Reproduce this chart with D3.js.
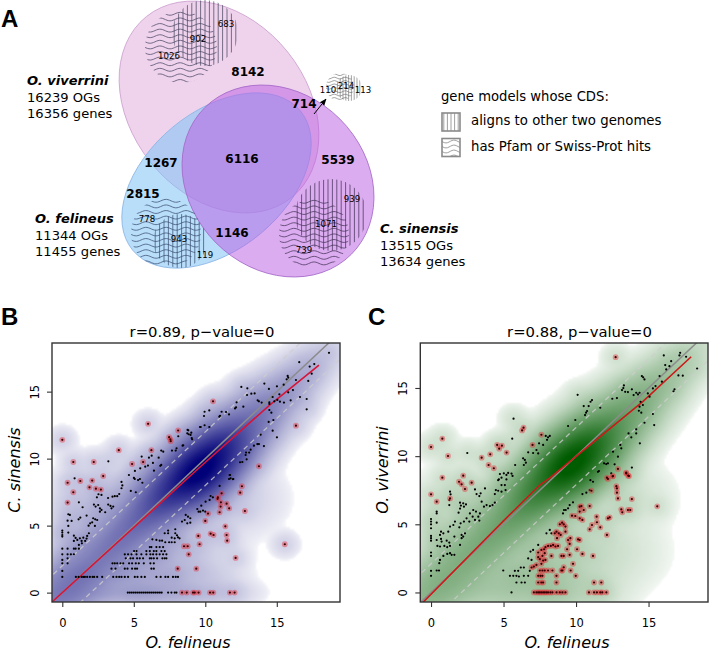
<!DOCTYPE html>
<html><head><meta charset="utf-8">
<script src="https://cdn.jsdelivr.net/npm/d3@7"></script>
<style>html,body{margin:0;padding:0;background:#fff}svg{display:block}text{font-family:"DejaVu Sans",sans-serif;fill:#000}</style>
</head><body><div id="chart"></div>
<script>
// ---------- Panel A values ----------
const vennCounts = [[8142,248,76],[714,304,108],[1267,161,167],[6116,242,163],[5539,338,164],[2815,143,198],[1146,232,237]];
const hatchCounts = [[683,226,27],[902,198,42],[1026,169,59],[778,147,222],[943,179,242],[119,205,258],[1071,326,227],[939,352,202],[739,304,253],[110,328,93],[214,346,89],[113,363,93]];
const speciesNames = ["O. viverrini","O. felineus","C. sinensis"];
const speciesOGs = ["16239 OGs","11344 OGs","13515 OGs"];
const speciesGenes = ["16356 genes","11455 genes","13634 genes"];

// ---------- Panel B values (O. felineus vs C. sinensis) ----------
const blackB = [[18.65,17.9],[16.57,17.2],[17.62,17.06],[17.3,16.87],[17.44,16.34],[15.76,16.17],[15.8,16.05],[15.69,15.92],[16.34,15.87],[17.2,15.8],[14.13,15.6],[15.01,15.4],[15.48,15.52],[12.52,15.35],[12.94,15.25],[14.45,15.2],[13.22,14.85],[13.45,14.87],[12.92,14.75],[16.13,15.12],[15.8,14.95],[15.18,14.8],[14.71,14.6],[13.66,14.35],[13.75,14.28],[13.94,14.18],[14.48,14.2],[14.48,14.08],[14.83,14.28],[15.04,14.38],[15.22,14.25],[15.5,14.18],[15.97,14.35],[16.62,14.6],[17.09,14.45],[17.09,13.68],[12.19,14.2],[12.66,13.88],[12.15,13.83],[12.08,13.75],[10.28,13.6],[9.95,13.5],[9.91,13.18],[11.14,13.5],[11.45,13.48],[11.66,13.3],[11.03,13.2],[10.98,13.13],[14.48,13.63],[14.62,13.43],[14.76,12.88],[14.43,12.74],[14.71,12.09],[15.01,11.59],[9.68,12.36],[9.95,12.49],[10.28,12.36],[8.81,12.11],[9.02,11.94],[8.84,11.82],[9.05,11.54],[9.08,11.44],[8.46,11],[13.87,11.79],[13.4,10.97],[13.64,11.09],[13.75,11.09],[14.1,10.94],[13.17,10.67],[12.85,10.45],[12.82,10.27],[13.07,10.45],[12.89,9.95],[12.59,9.75],[12.43,9.73],[11.73,8.78],[11.66,8.48],[11.96,8.48],
[8.76,12.14],[8.74,11.89],[8.97,11.77],[8.11,11.67],[9.63,12.36],[8.41,10.97],[7.99,10.77],[7.93,10.6],[7.67,10.6],[7.06,10.52],[6.92,10.6],[6.25,10.22],[5.55,10.15],[6.06,10.07],[6.74,10.07],[6.34,9.68],[3.22,9.8],[5.99,9.48],[5.8,9.4],[5.45,9.28],[5.08,9.08],[4.66,8.78],[5.01,8.56],[5.43,8.48],[6.92,9.53],[6.85,9.46],[6.41,9.1],[0.86,8.53],
[5.07,8.48],[5.3,8.4],[5.6,8.2],[4.14,8.26],[4.2,8],[4.79,7.59],[5.14,7.49],[4.14,7.79],[3.98,7.36],[3.51,7.16],[3.2,7.06],[3.67,7.2],[3.84,7.2],[2.53,7.34],[2.42,7.11],[2.74,7.29],[1.16,6.74],[1.42,6.37],[2.21,6.57],[2.51,6.54],[2.33,6.42],[2.63,6.29],[3.21,6.57],[3.37,6.47],[3.56,6.42],[3.44,6.29],[2.63,6.04],[2.74,6.17],[3,6],[0.42,5.85],[0.53,5.8],[1.26,5.6],[1.14,5.47],[1.7,5.75],[0.37,5.37],[0.65,5.35],[2.16,5.55],[2.3,5.47],[2.44,5.42],[1.95,5.17],[1.84,5],[2.28,4.98],[2.09,5.25],[0.42,4.98],[0,4.63],[0,4.48],[0,4.3],[0,4.18],[0.42,4.48],[0.81,4.25],[0.93,4.08],[1.86,4.43],[1.74,4.23],[1.23,4.05],[1.05,3.93],[1.47,4.1],[1.7,4.03],[0.81,3.86],[1.35,3.86],[1.6,3.86],[1.37,3.68],[1.16,3.56],[0.93,3.28],[0.81,3.28],[0,3.28],[0.37,3.28],[1.16,3.28],[0,2.86],[0.37,2.86],[0.6,2.86],[0.81,2.86],[0.37,2.56],[0,2.44],[0,2.19],[0.37,2.19],[0,1.62],[0,1.17],
[6.3,3.98],[6.58,3.93],[6.81,3.88],[6.98,3.88],[7.2,3.76],[7.47,3.76],[7.65,3.76],[7.86,3.76],[8.09,4.13],[7.86,4.05],[7.65,4.1],[7.4,4.43],[7.16,4.43],[7.4,4.63],[7.9,4.43],[7.9,4.73],[8.2,4.05],[8.02,4.28],[8.37,5.3],[8.56,5.42],[8.79,5.67],[8.95,5.55],[8.95,5.22],[8.74,5.17],[8.63,5.8],[9.44,6.24],[9.72,6.49],[9.53,6.04],[9.84,6.12],[10,6.04],[9.65,6.04],[10.02,6.79],[10.3,6.92],[10.53,7.11],[10.37,7.21],[11,7.96],[11.7,8.78],[11.93,8.46],[11.77,8.53]];
const rowLevelsB = [0,1.17,1.79,2.19,2.56,2.86,3.1,3.4];
const rowValuesB = [
 [4.58,4.72,4.86,5,5.14,5.28,5.42,5.56,5.7,5.84,5.98,6.12,6.26,6.4,6.54,6.68,6.82,6.95,7.4,7.63,7.86,7.98],
 [0.95,1.14,1.35,1.47,1.58,1.74,1.93,2.12,2.23,2.44,2.79,3.56,3.79,3.98,4.14,4.37,4.6,5.07,5.26,5.53,5.77,6.58,6.88,7.21,7.4,7.74,7.93,8.09],
 [3.44,3.72,4.37,4.56,4.88,5.09,5.23,6.23,6.4],
 [3.51,3.67,3.84,4.07,4.26,4.67,4.88,5.14,5.35,5.7,6.16,6.4],
 [4.44,4.77,4.95,5.23,5.42,5.65,6.12,6.23,6.4,6.63,7,7.16,7.28],
 [4.37,4.6,4.84,5.19,5.53,5.88,6.16,6.35,6.58,6.81,7.05,7.28],
 [5.02,5.19,5.88,6.12,6.4,6.58,6.93,7.16],
 [6.12,6.23,6.58,6.81,7.05]];
const redB = [[0.37,8.2],[1.26,8.33],[2.09,8.36],[2.86,8.7],[1.9,7.86],[2.35,7.76],[2.7,7.69],[0.77,7.49],[0.37,6.72],[12.56,7.94],[12.44,7.46],[11.14,7.41],[10.88,7.11],[10.86,7],[11.09,6.74],[11.49,6.64],[11.07,6.42],[11.67,6.29],[12.77,6.09],[11,6],[10.19,5.9],[10,5.35],[11.4,4.95],[9.51,4.23],[10.37,4.4],[10.58,4.3],[11.49,4.3],[11.53,3.88],[9.6,3.61],[15.56,3.61],[8.51,3.46],[8.77,3.46],[8.84,2.86],[12.12,2.59],[8.07,1.79],[9.37,1.79],[8.37,0],[8.7,0],[9.14,0],[9.26,0],[9.53,0],[10.33,0],[10.56,0],[11.72,0],[12.05,0],[0,11.4],[6,12.6],[0.77,9.75],[2.2,9.75],[3.95,10.63],[4.88,9.6],[5.65,9.75],[6.23,10.63],[7.47,11.6],[7.56,11.44],[7.58,11.3],[8.1,12.1],[10.54,14.28],[16.34,12.46],[13.75,9.43]];
const fitXB = [-0.74,9.4,14.5,17.95];
const fitYB = [-0.72,9.15,14,16.97];
const ridgeXB = [-0.3,1.5,3.5,5.5,7.5,9.5,11,12.8,14.8,16.8,2,5,8,11,1,4,7,10,3,7,12,4];
const ridgeYB = [-0.3,1.5,3.5,5.5,7.5,9,10.5,12.3,14.3,16.2,0,0,0,0,1.2,1.2,1.2,1.2,5.5,3,7,7];
const ridgeAlongB = [1.4,1.6,1.6,1.6,1.5,1.4,1.4,1.6,1.6,1.6,1.6,1.6,1.4,1.2,1.6,1.6,1.4,1.2,2,2,1.5,1.6];
const ridgeAcrossB = [1.1,1,0.95,0.95,0.95,1,1,0.95,0.85,0.75,0.5,0.5,0.5,0.5,0.6,0.6,0.6,0.6,1.5,1.5,1.2,1.2];
const ridgeWeightB = [55,50,55,85,300,900,420,90,22,7,14,10,5,2,8,8,5,1.5,3,6,1.5,2];

// ---------- Panel C values (O. felineus vs O. viverrini) ----------
const blackC = [[2.5,10.23],[5.69,12.75],[5.6,11.28],[5.8,9.35],[6.35,9.84],[6.47,9.72],[6.4,9.35],[6.54,9.52],[6.7,10.28],[7.04,10.23],[7.27,10.45],[7.39,10.2],[7.45,10.94],[7.73,10.82],[7.91,11.48],[8,11.2],[8.19,11.48],[8.07,11.38],[9.45,12.21],[9.95,12.65],[10.11,14.5],[10.53,13.67],[10.87,13.67],[10.76,13.31],[10.69,13.19],[10.62,13.01],[11.1,14.11],[11,13.99],[11.67,13.55],[12.5,14.21],[12.82,14.26],[13.3,15.19],[13.26,14.99],[13.17,14.85],[13.39,14.72],[13.58,14.7],[13.85,14.9],[14.15,14.65],[13.97,14.48],[14.27,14.53],[14.54,15.87],[14.63,15.78],[14.72,15.63],[14.38,14.65],[14.95,14.6],[15.07,14.36],[14.45,13.99],[14.61,13.75],[14.38,13.63],[14.33,13.33],[14.5,13.19],[15.3,13.09],[14.72,12.45],[15.39,12.28],[15.3,14.97],[15.48,15.14],[15.76,15.87],[16.15,16.68],[16.56,16.97],[16.44,16.6],[16.22,16.36],[16.05,17.39],[17.18,17.58],[17.13,17.39],[17.59,17.29],[17.06,15.92],[17.36,15.9],[18.35,16.43],[15.92,15.46],[16.79,14.9],[16.72,14.76],[13.62,11.67],[13.81,11.38],[14.15,11.97],[14.15,11.67],[14.4,10.94],[13.05,10.82],[13.12,10.57],[12.89,9.96],[12.55,10.33],[11.93,9.47],[12.2,9.47],[12.08,9.42],[12.66,9.4],[13.85,9.16],[11.58,8.91],[12.43,8.74],[4.75,8.69],[5.02,8.74],[5.32,8.77],[5.55,8.72],[5.62,8.55],[4.86,8.42],[4.68,8.3],[5.2,8.62],
[4.63,8.24],[5.2,8.29],[4.86,7.88],[5.09,7.88],[4.47,7.51],[4.63,7.46],[4.4,7.22],[4.86,7.39],[5.14,7.51],[3.72,7.63],[3.03,7.56],[3.14,7.22],[3.33,7.07],[3.42,7.27],[3.65,6.29],[3.83,6.41],[4.06,6.34],[4.24,6.41],[4.4,6.59],[3.49,6.66],[1.31,7.39],[1.35,7.2],[1.26,6.78],[1.26,6.41],[2,6.59],[2.22,6.54],[2.41,6.46],[2.06,6.37],[2.27,6.29],[2,6.15],[1.9,5.85],[2.91,6.05],[3.1,5.93],[2.68,5.8],[3.26,5.56],[3.37,5.8],[2.87,5.56],[2.45,5.44],[2.27,5.2],[2.64,5.2],[3.03,5.32],[3.33,5.27],[2.04,5.07],[1.95,4.78],[1.65,5.2],[0.39,5.8],[0.39,5.93],[0,5.39],[0,5.2],[0,5],[0.39,5.12],[0,4.71],[1.54,4.95],[1.31,4.83],[1.19,4.46],[0.69,4.46],[0.62,4.22],[0.85,4.34],[1.61,4.1],[2.11,4.22],[2.22,4.1],[2.34,4.34],[2.11,3.98],[0,4.15],[0,3.98],[0,3.8],[0.39,3.85],[0.69,3.93],[0.73,3.73],[1.08,3.8],[0.92,3.41],[1.12,3.32],[1.31,3.41],[1.26,3.66],[0.44,3.41],[0.62,3.37],[2,3.49],[1.31,2.88],[1.42,2.76],[1.61,2.76],[1.12,2.83],[0.85,2.68],[0.62,2.39],[0.57,2.15],[0.39,1.61],[0.55,1.61],[0,2.68],[0,2.93],[0,1.59],[0,1.22],
[4.98,1.61],[5.44,1.22],[5.67,1.22],[5.89,1.22],[6.06,1.17],[6.4,1.22],[5.78,1.59],[6.01,1.59],[6.19,1.83],[6.4,1.83],[5.89,0.73],[6.24,0.73],[6.47,0.73],[5.55,0],[6.7,1.22],[6.81,1.59],[6.93,2.39],[6.7,2.5],[6.86,3],[7.04,3.12],[7.39,3.49],[8.19,4.59],[7.96,4.34],[8.3,4.34],[9.1,5.8],[9.29,6.05],[9.45,6.17],[9.17,6.05],[9.79,6.61],[9.56,6.41],[10.44,7.22],[10.71,7.32],[10.94,7.51],[10.99,8.24],[11.17,8.12],[11.51,8.85]];
const rowLevelsC = [0,0.73,1.22,1.61];
const rowValuesC = [
 [7.09,7.27,7.39,7.5,7.61,7.73,7.84,7.96,8.07,8.23,8.37,8.65,8.88,9.06,9.27,10.89,11.24,11.44,11.67,11.81,12.09],
 [7.39,7.61,7.73,8.65,11.24,11.74],
 [7.39,7.55,7.68,8.65,9.98],
 [7.5,7.68,7.84,8.07,8.37,8.99,9.06,9.63]];
const redC = [[0,10.67],[0.78,11.28],[1.17,10.01],[0.78,8.42],[2.22,8.57],[3.49,9.89],[4.08,10.13],[3.97,9.35],[4.33,9.11],[4.56,10.82],[4.7,10.55],[4.89,10.77],[5.21,10.26],[6.28,11.89],[6.38,12.09],[7,10.82],[7.61,11.57],[12.73,17.26],[12.89,9.06],[13.46,8.79],[13.6,8.57],[12.13,8.42],[12.2,8.33],[12.52,8.52],
[9.15,1.85],[9.79,2.1],[6.93,1.83],[7.09,1.9],[7.27,2.02],[7.61,2.1],[7.73,2.34],[7.5,2.44],[7.89,2.39],[7.39,2.59],[7.68,2.68],[7.84,2.88],[8.3,2.68],[8.99,2.68],[9.15,2.68],[9.56,2.76],[10.07,3.17],[10.44,2.83],[11.17,2.68],[7.39,2.93],[7.61,3.12],[7.8,3.17],[7.89,3.32],[8.07,3.41],[8.26,3.41],[8.42,3.49],[8.58,3.37],[8.76,3.41],[9.38,3.17],[9.45,3.85],[9.61,3.98],[10.14,3.9],[10.25,3.85],[9.56,3.56],[8.69,3.98],[8.53,4.34],[8.65,4.46],[8.81,4.34],[8.94,4.22],[9.27,4.83],[9.27,4.46],[8.88,5],[9.04,5.12],[9.15,5],[10.94,4.63],[11.1,4.95],[11.42,5.56],[11.44,5.15],[11.67,4.78],[12.13,4.22],[12.2,5.44],[12.32,5.51],[9.72,5.63],[9.95,5.61],[10.25,5.44],[10.44,5.32],[10.25,5.93],[10.53,6.05],[10.25,6.29],[10.94,6.34],[10.37,6.34],[15.6,6.32],[13.85,6.85],[13.12,6.1],[13.19,5.88],[13.58,6.05],[13.74,6.05],[12.78,7.8],[12.82,7.63],[12.82,7.32],[12.89,6.9],[12.55,8.54],[13.46,8.73],[13.65,8.54],[11.06,7.46],[1.93,8.12],[2.11,7.93],[2.34,7.59],[2.8,8.05],[0,7.2],[0.39,6.66],[1.31,6.9]];
const fitXC = [-0.53,5,7.5,8.2,14.6,17.94];
const fitYC = [-0.7,5.25,7.88,8.4,14,17.29];
const ridgeXC = [-0.3,1.5,3.5,5.5,7.5,9.5,11,12.8,14.8,16.8,2,5,8,10,6,8,11,3,13];
const ridgeYC = [-0.3,1.5,3.5,5.5,7.6,9.3,10.7,12.5,14.4,16.4,0.3,0.5,0.3,0.3,2,3.5,3,5.5,7];
const ridgeAlongC = [1.4,1.6,1.6,1.6,1.5,1.4,1.4,1.6,1.6,1.6,1.6,1.6,1.6,1.5,2,2,2,2,1.5];
const ridgeAcrossC = [1.1,1.05,1,1,1,1.05,1.05,1,0.9,0.8,0.8,1,1,1,1.5,1.5,1.4,1.5,1.2];
const ridgeWeightC = [30,38,50,80,300,900,420,100,28,8,8,10,8,3,6,4,2,2.5,1.5];
const ridgeDiagonalCount = 10;

const xTicks = [0,5,10,15], yTicks = [0,5,10,15];
const panelConfig = [
 {letter:"B",title:"r=0.89, p\u2212value=0",ylab:"C. sinensis",black:blackB,rowL:rowLevelsB,rowV:rowValuesB,red:redB,fx:fitXB,fy:fitYB,
  rx:ridgeXB,ry:ridgeYB,ra:ridgeAlongB,rc:ridgeAcrossB,rw:ridgeWeightB,color:"#000078",
  xd:[-0.72,19.42],yd:[-0.7,18.63],box:[52,340,602,343],tx:202,ylx:20,letterX:1,xlabX:188,off:2},
 {letter:"C",title:"r=0.88, p\u2212value=0",ylab:"O. viverrini",black:blackC,rowL:rowLevelsC,rowV:rowValuesC,red:redC,fx:fitXC,fy:fitYC,
  rx:ridgeXC,ry:ridgeYC,ra:ridgeAlongC,rc:ridgeAcrossC,rw:ridgeWeightC,color:"#005c00",
  xd:[-0.74,19.1],yd:[-0.7,18.3],box:[420.3,708,602,343],tx:579.5,ylx:388,letterX:368,xlabX:567,off:2.1}];

const svg = d3.select("#chart").append("svg").attr("width",709).attr("height",651);
const defs = svg.append("defs");

// ---------- Venn ----------
const A = svg.append("g");
const ellipses = [
 {cx:219,cy:107,a:116,b:88,rot:51.3,fill:"rgba(225,170,220,.52)",stroke:"#cca0d0"},
 {cx:216.5,cy:180.5,a:109,b:69,rot:-39.8,fill:"rgba(125,195,245,.55)",stroke:"#8ab4e4"},
 {cx:278,cy:181,a:103.7,b:87.6,rot:45,fill:"rgba(185,90,225,.5)",stroke:"#a468c8"}];
A.selectAll("ellipse").data(ellipses).join("ellipse")
 .attr("cx",d=>d.cx).attr("cy",d=>d.cy).attr("rx",d=>d.a).attr("ry",d=>d.b)
 .attr("transform",d=>`rotate(${d.rot} ${d.cx} ${d.cy})`).attr("fill",d=>d.fill).attr("stroke",d=>d.stroke).attr("stroke-width",.8);

function hatch(parent,id,clipShape,vertical,step,amp,period,col,sw){
 const c = defs.append("clipPath").attr("id",id);
 if(clipShape.w) c.append("rect").attr("x",clipShape.x).attr("y",clipShape.y).attr("width",clipShape.w).attr("height",clipShape.h);
 else c.append("circle").attr("cx",clipShape.cx).attr("cy",clipShape.cy).attr("r",clipShape.r);
 const g = parent.append("g").attr("clip-path",`url(#${id})`).attr("fill","none").attr("stroke",col).attr("stroke-width",sw);
 const x0=clipShape.w?clipShape.x:clipShape.cx-clipShape.r, x1=clipShape.w?clipShape.x+clipShape.w:clipShape.cx+clipShape.r;
 const y0=clipShape.w?clipShape.y:clipShape.cy-clipShape.r, y1=clipShape.w?clipShape.y+clipShape.h:clipShape.cy+clipShape.r;
 if(vertical){
  d3.range(x0+step/2,x1,step).forEach(x=>g.append("line").attr("x1",x).attr("x2",x).attr("y1",y0).attr("y2",y1));
 } else {
  const ln=d3.line().curve(d3.curveBasis);
  d3.range(y0+step/2,y1,step).forEach(y=>{
   g.append("path").attr("d",ln(d3.range(x0-2,x1+3,1.5).map(x=>[x,y+amp*Math.sin(2*Math.PI*(x-x0)/period)])));
  });
 }
}
const hatchCol="#4c4864";
hatch(A,"h1",{cx:205,cy:33,r:33},true,4.4,0,0,hatchCol,.75);
hatch(A,"h2",{cx:181,cy:47,r:36},false,5.6,1.5,20,hatchCol,.75);
hatch(A,"h3",{cx:166,cy:233,r:35},false,5.6,1.5,20,"#3c5074",.75);
hatch(A,"h4",{cx:180,cy:241,r:27},true,4.4,0,0,"#3c5074",.75);
hatch(A,"h5",{cx:331,cy:215,r:36},true,4.4,0,0,"#46345a",.75);
hatch(A,"h6",{cx:314,cy:234,r:35},false,5.6,1.5,20,"#46345a",.75);
hatch(A,"h7",{cx:340,cy:87,r:14},false,3.4,1,11,"#666",.6);
hatch(A,"h8",{cx:349,cy:88,r:13},true,2.8,0,0,"#666",.6);

A.selectAll("text.vc").data(vennCounts).join("text").attr("class","vc").attr("x",d=>d[1]).attr("y",d=>d[2])
 .attr("text-anchor","middle").attr("font-weight","bold").attr("font-size",12).text(d=>d[0]);
A.selectAll("text.hc").data(hatchCounts).join("text").attr("class","hc").attr("x",d=>d[1]).attr("y",d=>d[2])
 .attr("text-anchor","middle").attr("font-size",8.6).attr("fill","#222").text(d=>d[0]);
const labelPos=[[27,85],[35,223],[380,233]];
speciesNames.forEach((n,i)=>{
 const [x,y]=labelPos[i];
 A.append("text").attr("x",x).attr("y",y).attr("font-weight","bold").attr("font-style","italic").attr("font-size",13).text(n);
 A.append("text").attr("x",x).attr("y",y+16.7).attr("font-size",13.1).text(speciesOGs[i]);
 A.append("text").attr("x",x).attr("y",y+33.4).attr("font-size",13.1).text(speciesGenes[i]);
});
defs.append("marker").attr("id","arr").attr("viewBox","0 0 10 10").attr("refX",9).attr("refY",5).attr("markerWidth",7).attr("markerHeight",7).attr("orient","auto")
 .append("path").attr("d","M0,1L10,5L0,9Z").attr("fill","#000");
A.append("line").attr("x1",314).attr("y1",114).attr("x2",326).attr("y2",99).attr("stroke","#000").attr("stroke-width",1).attr("marker-end","url(#arr)");

A.append("text").attr("x",441).attr("y",101).attr("font-size",13.2).text("gene models whose CDS:");
A.append("text").attr("x",471).attr("y",125).attr("font-size",13.3).text("aligns to other two genomes");
A.append("text").attr("x",471).attr("y",151).attr("font-size",13.3).text("has Pfam or Swiss-Prot hits");
hatch(A,"l1",{x:442,y:113,w:18,h:18},true,3.6,0,0,"#888",.8);
hatch(A,"l2",{x:442,y:139,w:18,h:18},false,5,1.5,16,"#888",.8);
A.append("rect").attr("x",442).attr("y",113).attr("width",18).attr("height",18).attr("fill","none").attr("stroke","#8a8a8a").attr("stroke-width",1.6);
A.append("rect").attr("x",442).attr("y",138.5).attr("width",18).attr("height",18).attr("fill","none").attr("stroke","#8a8a8a").attr("stroke-width",1.6);

svg.append("text").attr("x",1).attr("y",27).attr("font-size",24).attr("font-weight","bold").style("font-family","'Liberation Sans',sans-serif").text("A");

// ---------- Scatter panels ----------
panelConfig.forEach((P,pi)=>{
 const [L,R,B,T]=P.box;
 const x=d3.scaleLinear().domain(P.xd).range([L,R]);
 const y=d3.scaleLinear().domain(P.yd).range([B,T]);
 const rows=P.rowL.flatMap((lv,i)=>P.rowV[i].map(v=>[v,lv]));
 const blacks=P.black.concat(pi===0?rows:[]);
 const reds=P.red.concat(pi===1?rows:[]);
 const cell=2, W=Math.ceil((R-L)/cell), H=Math.ceil((B-T)/cell);
 const dens=new Float64Array(W*H);
 const sig=0.46, trunc=1.5;
 const pts=blacks.concat(reds);
 const ix=d=>Math.floor((x(d)-L)/cell), iy=d=>Math.floor((y(d)-T)/cell);
 pts.forEach(p=>{
  const i0=Math.max(0,ix(p[0]-trunc)), i1=Math.min(W-1,ix(p[0]+trunc));
  const j0=Math.max(0,iy(p[1]+trunc)), j1=Math.min(H-1,iy(p[1]-trunc));
  for(let j=j0;j<=j1;j++){const vy=y.invert(T+(j+.5)*cell);
   for(let i=i0;i<=i1;i++){const vx=x.invert(L+(i+.5)*cell);
    dens[j*W+i]+=Math.exp(-((vx-p[0])**2+(vy-p[1])**2)/(2*sig*sig));}}
 });
 P.rx.forEach((cx,k)=>{
  const cy=P.ry[k],sa=P.ra[k],sc=P.rc[k],w=P.rw[k];
  const diag=k<ridgeDiagonalCount;
  for(let j=0;j<H;j++){const vy=y.invert(T+(j+.5)*cell);
   for(let i=0;i<W;i++){const vx=x.invert(L+(i+.5)*cell);
    const dx=vx-cx,dy=vy-cy;
    const al=(dx+dy)*Math.SQRT1_2, ac=(dy-dx)*Math.SQRT1_2;
    const e=diag?al*al/(2*sa*sa)+ac*ac/(2*sc*sc):dx*dx/(2*sa*sa)+dy*dy/(2*sc*sc);
    dens[j*W+i]+=w*Math.exp(-e);
   }}
 });
 const floor=0.03;
 const tone=d3.scalePow().exponent(.25).domain([0,1000]).range([0,1]).clamp(true);
 const ramp=d3.interpolateRgb("#ffffff",P.color);
 const cv=document.createElement("canvas");cv.width=W;cv.height=H;
 const ctx=cv.getContext("2d"),im=ctx.createImageData(W,H);
 dens.forEach((v,n)=>{const c=d3.rgb(ramp(tone(Math.max(0,v-floor))));im.data[n*4]=c.r;im.data[n*4+1]=c.g;im.data[n*4+2]=c.b;im.data[n*4+3]=255;});
 ctx.putImageData(im,0,0);
 const g=svg.append("g");
 const cid="plot"+pi;
 defs.append("clipPath").attr("id",cid).append("rect").attr("x",L).attr("y",T).attr("width",R-L).attr("height",B-T);
 const inner=g.append("g").attr("clip-path",`url(#${cid})`);
 inner.append("image").attr("href",cv.toDataURL()).attr("x",L).attr("y",T).attr("width",W*cell).attr("height",H*cell).attr("preserveAspectRatio","none");
 const line=d3.line().x(d=>x(d[0])).y(d=>y(d[1]));
 const lims=[-2,22];
 [P.off,-P.off].forEach(o=>{
  inner.append("path").attr("d",line(lims.map(v=>[v,v+o]))).attr("stroke","rgba(205,205,205,.8)").attr("stroke-width",1.3).attr("stroke-dasharray","5 4").attr("fill","none");
 });
 inner.append("path").attr("d",line(lims.map(v=>[v,v]))).attr("stroke","#8c8c8c").attr("stroke-width",1.5).attr("fill","none");
 inner.append("path").attr("d",line(P.fx.map((v,i)=>[v,P.fy[i]]))).attr("stroke",pi===0?"#d81438":"#cc1a1a").attr("stroke-width",1.6).attr("fill","none");
 inner.append("g").selectAll("circle").data(blacks).join("circle").attr("cx",d=>x(d[0])).attr("cy",d=>y(d[1])).attr("r",1.1).attr("fill","#000");
 inner.append("g").selectAll("circle").data(reds).join("circle").attr("cx",d=>x(d[0])).attr("cy",d=>y(d[1])).attr("r",2.9).attr("fill","rgba(228,50,60,.45)");
 inner.append("g").selectAll("circle").data(reds).join("circle").attr("cx",d=>x(d[0])).attr("cy",d=>y(d[1])).attr("r",1.1).attr("fill","#300");
 g.append("rect").attr("x",L).attr("y",T).attr("width",R-L).attr("height",B-T).attr("fill","none").attr("stroke","#333").attr("stroke-width",1.4);
 const ax=g.append("g").attr("transform",`translate(0,${B})`).call(d3.axisBottom(x).tickValues(xTicks).tickSize(5).tickPadding(12).tickFormat(d3.format("d")));
 const ay=g.append("g").attr("transform",`translate(${L},0)`).call(d3.axisLeft(y).tickValues(yTicks).tickSize(5).tickPadding(8).tickFormat(d3.format("d")));
 [ax,ay].forEach(a=>{a.select(".domain").remove();a.selectAll("line").attr("stroke","#333").attr("stroke-width",1.1);
  a.selectAll("text").attr("font-size",11.5).style("font-family","'DejaVu Sans'").attr("fill","#000");});
 ay.selectAll("text").attr("text-anchor","middle").attr("dy",0).attr("x",-13).attr("transform","rotate(-90 -13 0)");
 svg.append("text").attr("x",P.tx).attr("y",337).attr("text-anchor","middle").attr("font-size",14.8).text(P.title);
 svg.append("text").attr("x",P.xlabX).attr("y",648).attr("text-anchor","middle").attr("font-size",16).attr("font-style","italic").text("O. felineus");
 svg.append("text").attr("transform",`translate(${P.ylx},470) rotate(-90)`).attr("text-anchor","middle").attr("font-size",16).attr("font-style","italic").text(P.ylab);
 svg.append("text").attr("x",P.letterX).attr("y",325).attr("font-size",24).attr("font-weight","bold").style("font-family","'Liberation Sans',sans-serif").text(P.letter);
});
</script></body></html>
